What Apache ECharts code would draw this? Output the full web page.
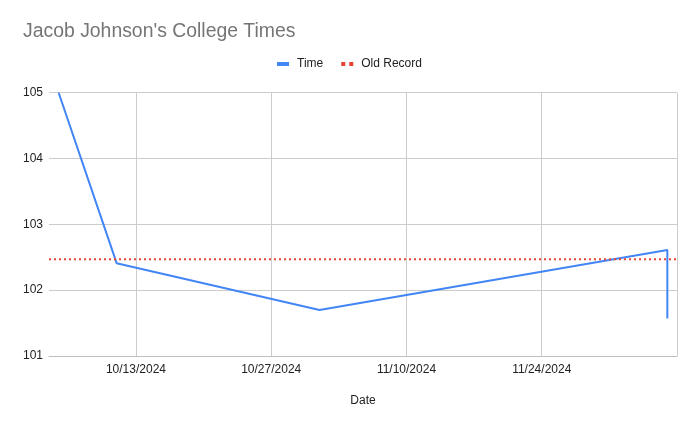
<!DOCTYPE html>
<html>
<head>
<meta charset="utf-8">
<script src="https://cdn.jsdelivr.net/npm/echarts@6/dist/echarts.min.js"></script>
<style>html,body{margin:0;padding:0;background:#fff}#c{width:699px;height:426px}</style>
</head>
<body>
<div id="c"></div>
<script>
const dates = ['2024-10-05', '2024-10-11', '2024-11-01', '2024-12-07', '2024-12-07'];
const times = [105, 102.41, 101.70, 102.61, 101.57];
const oldRecordDates = ['2024-10-04', '2024-12-08'];
const oldRecordValues = [102.47, 102.47];
const xTickDates = ['2024-10-13', '2024-10-27', '2024-11-10', '2024-11-24', '2024-12-08'];
const xLabelDates = ['2024-10-13', '2024-10-27', '2024-11-10', '2024-11-24'];
const xRange = ['2024-10-04', '2024-12-08'];
const yTicks = [101, 102, 103, 104, 105];

const ts = s => { const p = s.split('-').map(Number); return new Date(p[0], p[1] - 1, p[2]).getTime(); };
const fmt = v => { const d = new Date(v); return (d.getMonth() + 1) + '/' + d.getDate() + '/' + d.getFullYear(); };
const FONT = '"Liberation Sans", Arial, sans-serif';

const chart = echarts.init(document.getElementById('c'));
chart.setOption({
  animation: false,
  backgroundColor: '#fff',
  title: {
    text: "Jacob Johnson's College Times",
    left: 23, top: 22, padding: 0,
    textStyle: { fontFamily: FONT, fontSize: 19.4, fontWeight: 'normal', color: '#757575' }
  },
  legend: {
    top: 53, left: 'center', itemWidth: 12, itemHeight: 4, itemGap: 18,
    textStyle: { fontFamily: FONT, fontSize: 12, color: '#222', padding: [0, 0, 0, 3] },
    data: [
      { name: 'Time', icon: 'rect' },
      { name: 'Old Record', icon: 'path://M0,0h4v4h-4zM8,0h4v4h-4z' }
    ]
  },
  grid: { left: 49, right: 22, top: 92.7, bottom: 70, containLabel: false },
  xAxis: {
    type: 'value',
    min: ts(xRange[0]), max: ts(xRange[1]),
    name: 'Date', nameLocation: 'middle', nameGap: 39,
    nameTextStyle: { fontFamily: FONT, fontSize: 12, color: '#222' },
    axisLine: { lineStyle: { color: '#bdbdbd', width: 1 } },
    axisTick: { show: false, customValues: xTickDates.map(ts) },
    axisLabel: {
      customValues: xLabelDates.map(ts), formatter: v => fmt(v),
      fontFamily: FONT, fontSize: 12, color: '#222', margin: 8
    },
    splitLine: { show: true, lineStyle: { color: '#cccccc', width: 1 } }
  },
  yAxis: {
    type: 'value', min: yTicks[0], max: yTicks[yTicks.length - 1], interval: 1,
    axisLine: { show: false }, axisTick: { show: false },
    axisLabel: { fontFamily: FONT, fontSize: 12, color: '#222', margin: 6 },
    splitLine: { lineStyle: { color: '#cccccc', width: 1 } }
  },
  series: [
    {
      name: 'Time', type: 'line', showSymbol: false, symbol: 'none',
      lineStyle: { color: '#4285F4', width: 2 }, itemStyle: { color: '#4285F4' },
      data: dates.map((d, i) => [ts(d), times[i]])
    },
    {
      name: 'Old Record', type: 'line', showSymbol: false, symbol: 'none',
      lineStyle: { color: '#EA4335', width: 2, type: [2, 3] }, itemStyle: { color: '#EA4335' },
      data: oldRecordDates.map((d, i) => [ts(d), oldRecordValues[i]])
    }
  ]
});
</script>
</body>
</html>
